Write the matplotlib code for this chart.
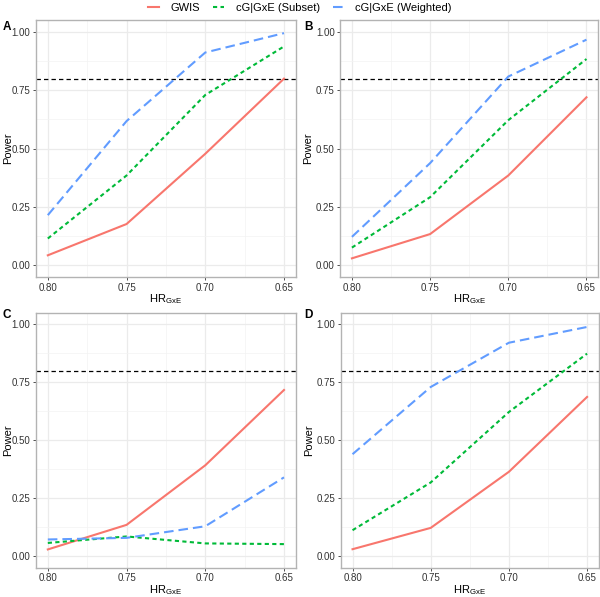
import matplotlib
matplotlib.use("Agg")
import matplotlib.pyplot as plt
from matplotlib.lines import Line2D

plt.rcParams['font.family'] = ['Liberation Sans', 'DejaVu Sans']

hr = [0.80, 0.75, 0.70, 0.65]
panels = ['A', 'B', 'C', 'D']

gwis = {
    'A': [0.043, 0.177, 0.478, 0.80],
    'B': [0.030, 0.134, 0.385, 0.72],
    'C': [0.029, 0.135, 0.392, 0.717],
    'D': [0.030, 0.122, 0.364, 0.687],
}
subset = {
    'A': [0.115, 0.385, 0.730, 0.938],
    'B': [0.076, 0.292, 0.622, 0.884],
    'C': [0.057, 0.085, 0.055, 0.052],
    'D': [0.112, 0.318, 0.622, 0.874],
}
weighted = {
    'A': [0.215, 0.618, 0.912, 0.995],
    'B': [0.122, 0.438, 0.809, 0.967],
    'C': [0.072, 0.079, 0.129, 0.340],
    'D': [0.440, 0.730, 0.921, 0.989],
}
power_target = 0.8

series_names = ['GWIS', 'cG|GxE (Subset)', 'cG|GxE (Weighted)']
colors = ['#F8766D', '#00BA38', '#619CFF']
dashes = [None, (2.0, 1.6), (4.6, 2.4)]

# axes boxes in figure fractions (left, bottom, width, height)
boxes = {
    'A': [0.060, 0.536, 0.433, 0.430],
    'B': [0.567, 0.536, 0.430, 0.430],
    'C': [0.060, 0.049, 0.433, 0.427],
    'D': [0.568, 0.049, 0.430, 0.427],
}
# panel letter positions (figure fractions)
letter_pos = {
    'A': (0.004, 1 - 21 / 597),
    'B': (0.507, 1 - 21 / 597),
    'C': (0.004, 1 - 309 / 597),
    'D': (0.507, 1 - 309 / 597),
}
ylabel_x = {'A': -0.108, 'B': -0.124, 'C': -0.108, 'D': -0.124}

fig = plt.figure(figsize=(6.0, 5.97), dpi=100)

for p in panels:
    ax = fig.add_axes(boxes[p])
    ax.set_facecolor('white')
    data = [gwis[p], subset[p], weighted[p]]
    for vals, c, d in zip(data, colors, dashes):
        line, = ax.plot(hr, vals, color=c, lw=1.5, zorder=3)
        if d is not None:
            line.set_dashes(d)
    ax.axhline(power_target, color='black', lw=0.9, ls=(0, (3.5, 2.5)), zorder=2)

    ax.set_xlim(0.8075, 0.6425)
    ax.set_ylim(-0.05, 1.05)
    ax.set_xticks(hr)
    ax.set_xticklabels(['0.80', '0.75', '0.70', '0.65'])
    ax.set_yticks([0, 0.25, 0.5, 0.75, 1.0])
    ax.set_yticklabels(['0.00', '0.25', '0.50', '0.75', '1.00'])
    ax.set_xticks([0.775, 0.725, 0.675], minor=True)
    ax.set_yticks([0.125, 0.375, 0.625, 0.875], minor=True)
    ax.grid(which='major', color='#EBEBEB', lw=0.9, zorder=0)
    ax.grid(which='minor', color='#F3F3F3', lw=0.5, zorder=0)
    ax.tick_params(which='minor', length=0)
    ax.tick_params(which='major', length=2.5, width=0.6, color='#333333',
                   labelsize=7, labelcolor='#333333', pad=1.5)
    for s in ax.spines.values():
        s.set_color('#B3B3B3')
        s.set_linewidth(1.0)
    ax.set_axisbelow(True)
    ax.set_ylabel('Power', fontsize=8, va='center')
    ax.yaxis.set_label_coords(ylabel_x[p], 0.5)
    ax.set_xlabel('HR$_{\\mathregular{GxE}}$', fontsize=8, va='center')
    ax.xaxis.set_label_coords(0.5, -0.086)
    fig.text(letter_pos[p][0], letter_pos[p][1], p, fontsize=8.5,
             fontweight='bold', ha='left', va='top')

handles = []
for c, d, n in zip(colors, dashes, series_names):
    h = Line2D([0], [0], color=c, lw=1.5)
    if d is not None:
        h.set_dashes(d)
    handles.append(h)
fig.legend(handles, series_names, loc='upper center', bbox_to_anchor=(0.5, 1.012),
           ncol=3, frameon=False, fontsize=8, handlelength=1.0,
           columnspacing=1.2, handletextpad=1.0)

fig.savefig('out.png', dpi=100)
